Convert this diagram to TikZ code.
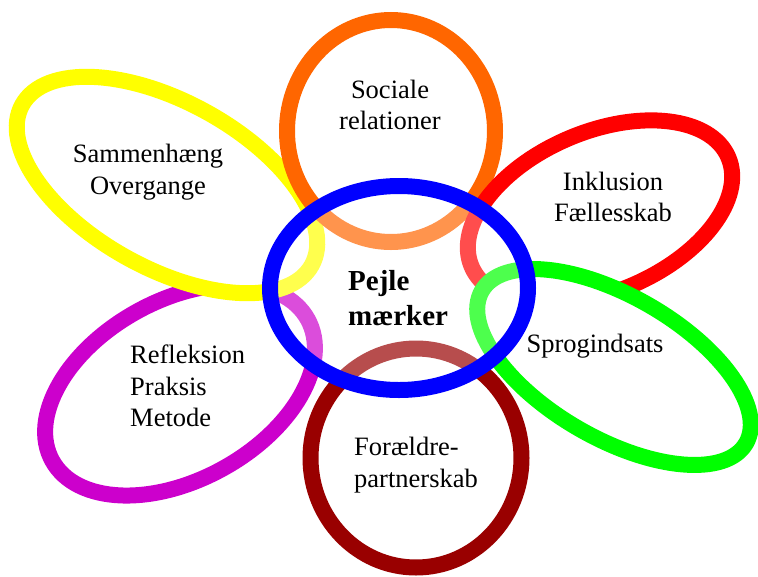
\documentclass[tikz,border=0pt]{standalone}
\usepackage{fontspec}
\setmainfont{Liberation Serif}
\usetikzlibrary{shapes,shapes.geometric}
\definecolor{ringorange}{HTML}{FF6600}
\definecolor{ringyellow}{HTML}{FFFF00}
\definecolor{ringred}{HTML}{FF0000}
\definecolor{ringgreen}{HTML}{00FF00}
\definecolor{ringmagenta}{HTML}{CC00CC}
\definecolor{ringbrown}{HTML}{990000}
\definecolor{ringblue}{HTML}{0000FF}
\tikzset{
  ring/.style = {ellipse, inner sep=0pt, line width=16pt, fill=white},
  hub/.style = {ring, draw=ringblue, fill opacity=0.3},
  lbl/.style = {inner sep=0pt, font=\fontsize{26.5}{31.5}\selectfont},
  lbl_c/.style = {lbl, align=center},
  lbl_l/.style = {lbl, align=left, anchor=west},
  lbl_b/.style = {lbl_l, font=\fontsize{29}{35}\selectfont\bfseries}
}

\begin{document}
\begin{tikzpicture}[x=1pt,y=-1pt]
\useasboundingbox (0,0) rectangle (758,576);
% petals
\node [ring, draw=ringmagenta, rotate=29, minimum width=292pt, minimum height=179pt] (refleksion) at (180,390) {};
\node [ring, draw=ringyellow, rotate=-29, minimum width=331pt, minimum height=166pt] (sammen) at (167,185) {};
\node [ring, draw=ringorange, minimum width=208pt, minimum height=222pt] (sociale) at (391,131) {};
\node [ring, draw=ringred, rotate=23, minimum width=279pt, minimum height=160pt] (inklusion) at (600,212) {};
\node [ring, draw=ringbrown, minimum width=211pt, minimum height=219pt] (foraeldre) at (416,458) {};
\node [ring, draw=ringgreen, rotate=-30, minimum width=305pt, minimum height=142pt] (sprog) at (614,367) {};
% centre
\node [hub, minimum width=258pt, minimum height=204pt] (pejle) at (399,288) {};
% labels
\node [lbl_c] (sociale_t) at (390,105) {Sociale\\relationer};
\node [lbl_c] (sammen_t) at (148,172) {Sammenhæng\\Overgange};
\node [lbl_c] (inklusion_t) at (613,197) {Inklusion\\Fællesskab};
\node [lbl_c] (sprog_t) at (595,346) {Sprogindsats};
\node [lbl_l] (refleksion_t) at (130,386) {Refleksion\\Praksis\\Metode};
\node [lbl_l] (foraeldre_t) at (354,465) {Forældre-\\partnerskab};
\node [lbl_b] (pejle_t) at (348,298) {Pejle\\mærker};
\end{tikzpicture}
\end{document}
